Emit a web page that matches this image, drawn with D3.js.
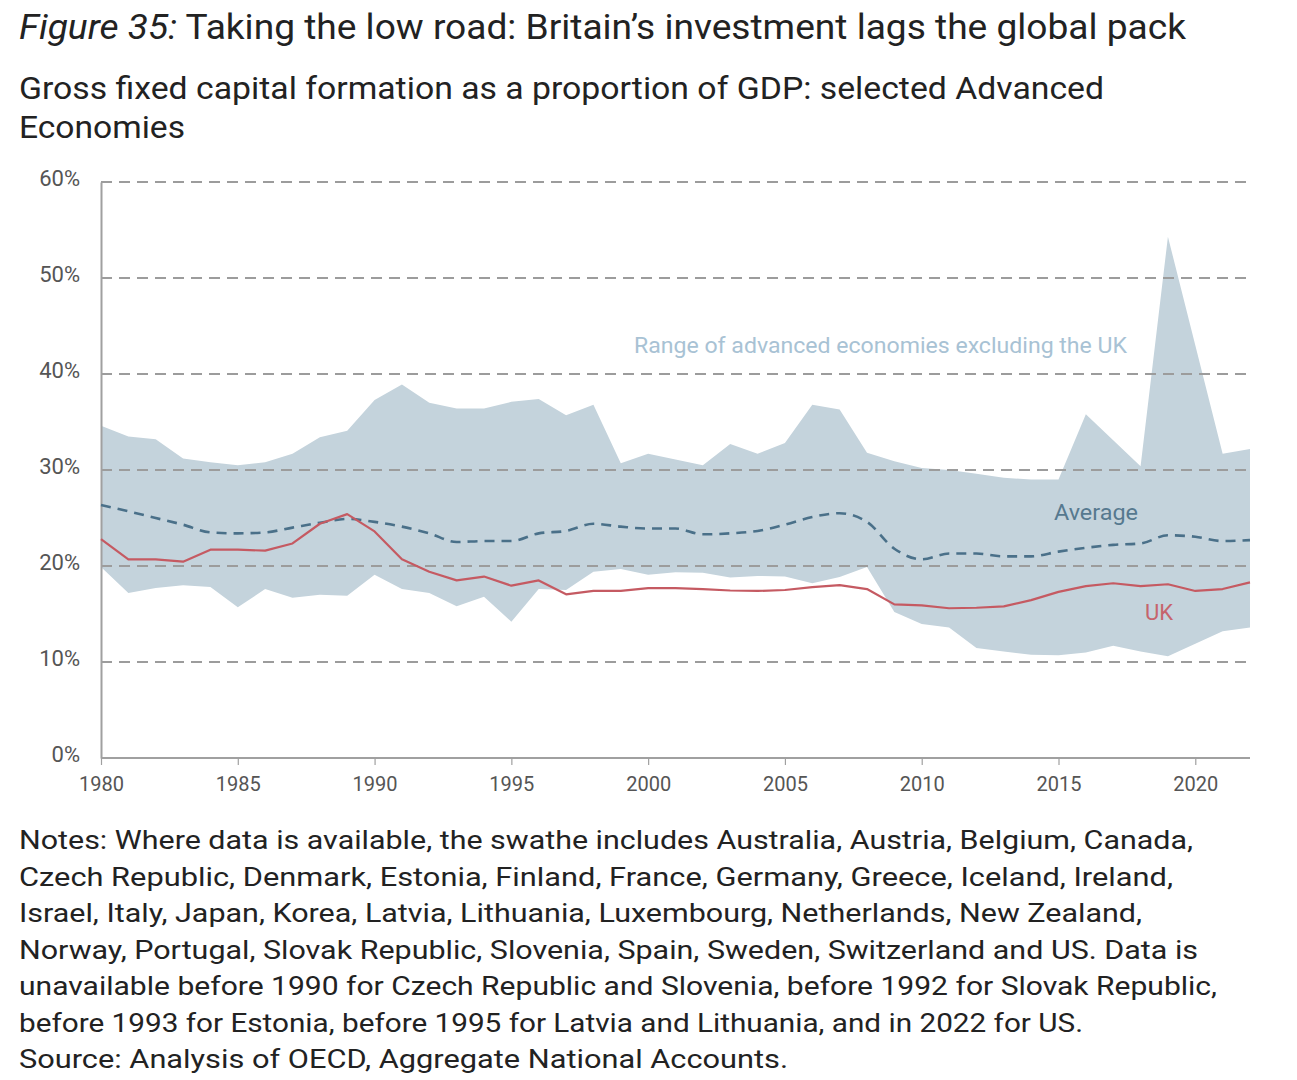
<!DOCTYPE html>
<html>
<head>
<meta charset="utf-8">
<script src="https://cdn.jsdelivr.net/npm/d3@7"></script>
<style>
  html, body { margin: 0; padding: 0; background: #fff; }
  svg { display: block; font-family: Roboto, "Noto Sans", sans-serif; }
</style>
</head>
<body>
<svg id="chart" width="1297" height="1080"></svg>
<script>
const years = d3.range(1980, 2023);
const rangeHigh = [34.6, 33.5, 33.2, 31.2, 30.8, 30.5, 30.8, 31.7, 33.4, 34.1,
  37.3, 38.9, 37.0, 36.4, 36.4, 37.1, 37.4, 35.7, 36.8, 30.7,
  31.7, 31.1, 30.5, 32.7, 31.7, 32.8, 36.8, 36.3, 31.8, 30.9,
  30.2, 30.0, 29.6, 29.2, 29.0, 29.0, 35.8, 33.1, 30.4, 54.3,
  43.0, 31.7, 32.2];
const rangeLow = [19.9, 17.2, 17.7, 18.0, 17.8, 15.7, 17.6, 16.7, 17.0, 16.9,
  19.1, 17.6, 17.2, 15.8, 16.8, 14.2, 17.6, 17.5, 19.4, 19.7,
  19.1, 19.35, 19.3, 18.8, 18.96, 18.9, 18.2, 18.85, 19.9, 15.2,
  13.95, 13.6, 11.45, 11.1, 10.75, 10.7, 11.0, 11.7, 11.1, 10.6,
  11.9, 13.2, 13.6];
const average = [26.35, 25.7, 25.0, 24.3, 23.5, 23.4, 23.5, 24.0, 24.5, 24.9,
  24.6, 24.1, 23.4, 22.5, 22.6, 22.6, 23.4, 23.65, 24.4, 24.1,
  23.9, 23.9, 23.3, 23.4, 23.65, 24.3, 25.1, 25.5, 24.6, 21.8,
  20.7, 21.3, 21.3, 21.0, 21.0, 21.5, 21.9, 22.2, 22.35, 23.2,
  23.05, 22.6, 22.7];
const uk = [22.8, 20.7, 20.7, 20.45, 21.7, 21.7, 21.6, 22.35, 24.4, 25.4,
  23.6, 20.7, 19.4, 18.5, 18.9, 17.95, 18.5, 17.05, 17.4, 17.4,
  17.7, 17.7, 17.6, 17.45, 17.4, 17.5, 17.8, 18.0, 17.6, 16.0,
  15.9, 15.6, 15.65, 15.8, 16.45, 17.3, 17.9, 18.2, 17.9, 18.1,
  17.4, 17.6, 18.3];
const yTicks = [0, 10, 20, 30, 40, 50, 60];
const xTicks = [1980, 1985, 1990, 1995, 2000, 2005, 2010, 2015, 2020];

const titleItalic = "Figure 35:";
const titleRest = " Taking the low road: Britain\u2019s investment lags the global pack";
const subtitleLines = ["Gross fixed capital formation as a proportion of GDP: selected Advanced", "Economies"];
const noteLines = [
  "Notes: Where data is available, the swathe includes Australia, Austria, Belgium, Canada,",
  "Czech Republic, Denmark, Estonia, Finland, France, Germany, Greece, Iceland, Ireland,",
  "Israel, Italy, Japan, Korea, Latvia, Lithuania, Luxembourg, Netherlands, New Zealand,",
  "Norway, Portugal, Slovak Republic, Slovenia, Spain, Sweden, Switzerland and US. Data is",
  "unavailable before 1990 for Czech Republic and Slovenia, before 1992 for Slovak Republic,",
  "before 1993 for Estonia, before 1995 for Latvia and Lithuania, and in 2022 for US.",
  "Source: Analysis of OECD, Aggregate National Accounts."
];
const labelRange = "Range of advanced economies excluding the UK";
const labelAvg = "Average";
const labelUK = "UK";

const svg = d3.select("#chart");

function fit(sel, w) {
  const node = sel.node();
  const cur = node.getComputedTextLength();
  if (Math.abs(cur - w) > 1) {
    sel.attr("textLength", w).attr("lengthAdjust", "spacingAndGlyphs");
  }
  return sel;
}

// Title
const t = svg.append("text").attr("x", 19).attr("y", 39)
  .attr("font-size", 35).attr("fill", "#222");
t.append("tspan").attr("font-style", "italic").text(titleItalic);
t.append("tspan").text(titleRest);
fit(t, 1167);

// Subtitle
const subW = [1085, 166];
subtitleLines.forEach((s, i) => {
  const st = svg.append("text").attr("x", 19).attr("y", 99 + i * 39)
    .attr("font-size", 32).attr("fill", "#222").text(s);
  fit(st, subW[i]);
});

// Chart scales
const x = d3.scaleLinear().domain([1980, 2022]).range([101, 1250]);
const y = d3.scaleLinear().domain([0, 60]).range([758, 182]);

const data = years.map((yr, i) => ({ yr, hi: rangeHigh[i], lo: rangeLow[i], avg: average[i], uk: uk[i] }));

// Area band
svg.append("path").datum(data)
  .attr("fill", "#c4d3dc")
  .attr("d", d3.area().x(d => x(d.yr)).y0(d => y(d.lo)).y1(d => y(d.hi)));

// Gridlines (dashed, over the band)
const grid = svg.append("g");
grid.selectAll("line").data(yTicks.filter(v => v > 0)).join("line")
  .attr("x1", x(1980)).attr("x2", x(2022))
  .attr("y1", d => y(d)).attr("y2", d => y(d))
  .attr("stroke", "#9c9c9c").attr("stroke-width", 2)
  .attr("stroke-dasharray", "11,7");

// Y axis
const yAxis = svg.append("g").attr("transform", `translate(${x(1980)},0)`)
  .call(d3.axisLeft(y).tickValues(yTicks).tickSize(0).tickPadding(21).tickFormat(d => d + "%"));
yAxis.select(".domain").attr("stroke", "#a0a0a0").attr("stroke-width", 2);
yAxis.selectAll("text").attr("font-size", 22).attr("fill", "#555")
  .attr("font-family", "Roboto").attr("dy", "0.15em");

// X axis
const xAxis = svg.append("g").attr("transform", `translate(0,${y(0)})`)
  .call(d3.axisBottom(x).tickValues(xTicks).tickSize(7).tickPadding(11).tickFormat(d3.format("d")));
xAxis.select(".domain").attr("stroke", "#a0a0a0").attr("stroke-width", 2).attr("d", `M${x(1980)},0H${x(2022)}`);
xAxis.selectAll(".tick line").attr("stroke", "#a0a0a0").attr("stroke-width", 1.2);
xAxis.selectAll("text").attr("font-size", 21).attr("fill", "#555").attr("font-family", "Roboto");
xAxis.selectAll(".tick text").each(function() { fit(d3.select(this), 45); });

// Average line
svg.append("path").datum(data)
  .attr("fill", "none").attr("stroke", "#4a7089").attr("stroke-width", 2.6)
  .attr("stroke-dasharray", "10,7")
  .attr("d", d3.line().curve(d3.curveMonotoneX).x(d => x(d.yr)).y(d => y(d.avg)));

// UK line
svg.append("path").datum(data)
  .attr("fill", "none").attr("stroke", "#c55a62").attr("stroke-width", 2.2)
  .attr("stroke-linejoin", "round")
  .attr("d", d3.line().x(d => x(d.yr)).y(d => y(d.uk)));

// Labels
fit(svg.append("text").attr("x", 634).attr("y", 353).attr("font-size", 22)
  .attr("fill", "#a8c2d4").text(labelRange), 493);
fit(svg.append("text").attr("x", 1054).attr("y", 520).attr("font-size", 22)
  .attr("fill", "#56798f").text(labelAvg), 84);
fit(svg.append("text").attr("x", 1145).attr("y", 620).attr("font-size", 22)
  .attr("fill", "#c6646c").text(labelUK), 28);

// Notes
const noteW = [1174, 1154, 1123, 1179, 1198, 1064, 769];
noteLines.forEach((s, i) => {
  const nt = svg.append("text").attr("x", 19).attr("y", 849 + i * 36.5)
    .attr("font-size", 26).attr("fill", "#222").text(s);
  fit(nt, noteW[i]);
});
</script>
</body>
</html>
